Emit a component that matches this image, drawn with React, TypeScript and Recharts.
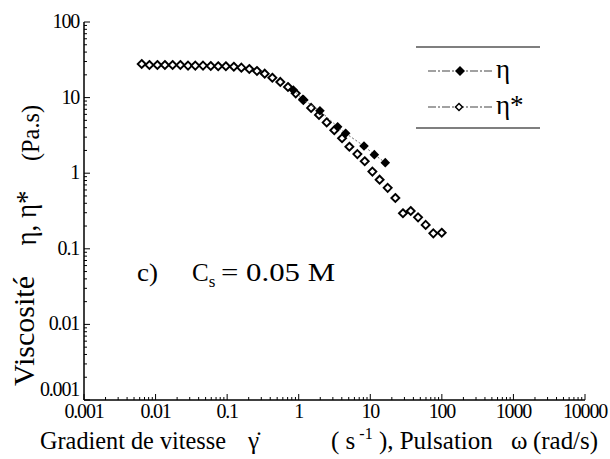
import { Scatter, ScatterChart, XAxis, YAxis } from "recharts";

// η* (open diamonds), oscillatory data
const etaStarX = [
  0.0064, 0.0082, 0.0106, 0.0135, 0.0173, 0.0222, 0.0284, 0.0359, 0.046, 0.059, 0.075, 0.096, 0.124, 0.158,
  0.204, 0.261, 0.335, 0.428, 0.553, 0.708, 0.908, 1.16, 1.49, 1.92, 2.46, 3.14, 4.03, 5.1, 6.6, 8.36, 10.7,
  13.5, 17.5, 22.4, 28.6, 36.7, 46.5, 59.4, 76, 99.5,
];
const etaStarY = [
  27.8, 27, 27, 27, 27, 27, 26.5, 26.5, 26.5, 26.2, 26, 26, 25.6, 24.9, 23.9, 22.5, 20.7, 18.3, 16.1, 13.8,
  11.4, 9.3, 7.3, 5.9, 4.7, 3.7, 2.9, 2.24, 1.79, 1.44, 1.05, 0.82, 0.64, 0.47, 0.295, 0.316, 0.261, 0.207,
  0.16, 0.163,
];

// η (filled diamonds), steady shear data
const etaX = [0.84, 1.14, 1.98, 3.5, 4.53, 8.17, 11.4, 16.2];
const etaY = [12.6, 9.5, 6.7, 4.1, 3.37, 2.29, 1.76, 1.38];

const decadesX = [0.001, 0.01, 0.1, 1, 10, 100, 1000, 10000];
const xLabels = ["0.001", "0.01", "0.1", "1", "10", "100", "1000", "10000"];
const decadesY = [0.001, 0.01, 0.1, 1, 10, 100];
const yLabels = ["0.001", "0.01", "0.1", "1", "10", "100"];

const etaStar = etaStarX.map((x, i) => ({ x, y: etaStarY[i] }));
const eta = etaX.map((x, i) => ({ x, y: etaY[i] }));

function withMinors(decades: number[]) {
  const out: number[] = [];
  decades.forEach((d, i) => {
    out.push(d);
    if (i < decades.length - 1) for (let k = 2; k <= 9; k++) out.push(+(d * k).toPrecision(3));
  });
  return out;
}
const xTicks = withMinors(decadesX);
const yTicks = withMinors(decadesY);

const FONT = "'Liberation Serif', 'DejaVu Serif', serif";

const makeTick = (side: "bottom" | "top" | "left" | "right") => (props: any) => {
  const { x, y, payload } = props;
  const v = payload.value;
  const idx = (side === "bottom" || side === "top" ? decadesX : decadesY).indexOf(v);
  const len = idx >= 0 ? 6 : 3;
  let line;
  if (side === "bottom") line = <line x1={x} x2={x} y1={y} y2={y - len} stroke="#000" />;
  else if (side === "top") line = <line x1={x} x2={x} y1={y} y2={y + len} stroke="#000" />;
  else if (side === "left") line = <line x1={x} x2={x + len} y1={y} y2={y} stroke="#000" />;
  else line = <line x1={x} x2={x - len} y1={y} y2={y} stroke="#000" />;
  return (
    <g>
      {line}
      {idx >= 0 && side === "bottom" && (
        <text x={x} y={y + 18} textAnchor="middle" fontSize={20} fontFamily={FONT} fill="#000" letterSpacing={-1.2}>
          {xLabels[idx]}
        </text>
      )}
      {idx >= 0 && side === "left" && (
        <text
          x={x - 5}
          y={idx === 0 ? y - 4 : y + 6}
          textAnchor="end"
          fontSize={20}
          fontFamily={FONT}
          fill="#000"
          letterSpacing={-1.2}
        >
          {yLabels[idx]}
        </text>
      )}
    </g>
  );
};

const OpenDiamond = (props: any) => {
  const { cx, cy } = props;
  const r = 4;
  return (
    <polygon
      points={`${cx},${cy - r} ${cx + r},${cy} ${cx},${cy + r} ${cx - r},${cy}`}
      fill="#fff"
      stroke="#000"
      strokeWidth={1.9}
    />
  );
};

const FilledDiamond = (props: any) => {
  const { cx, cy } = props;
  const r = 4.8;
  return <polygon points={`${cx},${cy - r} ${cx + r},${cy} ${cx},${cy + r} ${cx - r},${cy}`} fill="#000" />;
};

export default function App() {
  return (
    <div style={{ position: "absolute", left: 0, top: 0, width: 610, height: 459, background: "#fff" }}>
      <ScatterChart width={610} height={459} margin={{ top: 22, right: 25, bottom: 0, left: 0 }}>
        <XAxis
          xAxisId="b"
          dataKey="x"
          type="number"
          scale="log"
          domain={[0.001, 10000]}
          allowDataOverflow
          ticks={xTicks}
          interval={0}
          tickSize={0}
          tickMargin={0}
          tickLine={false}
          tick={makeTick("bottom")}
          axisLine={{ stroke: "#000", strokeWidth: 1.5 }}
          height={59}
        />
        <XAxis
          xAxisId="t"
          orientation="top"
          dataKey="x"
          type="number"
          scale="log"
          domain={[0.001, 10000]}
          allowDataOverflow
          ticks={xTicks}
          interval={0}
          tickSize={0}
          tickMargin={0}
          tickLine={false}
          tick={makeTick("top")}
          axisLine={{ stroke: "#000", strokeWidth: 1.5 }}
          height={0}
        />
        <YAxis
          yAxisId="l"
          dataKey="y"
          type="number"
          scale="log"
          domain={[0.001, 100]}
          allowDataOverflow
          ticks={yTicks}
          interval={0}
          tickSize={0}
          tickMargin={0}
          tickLine={false}
          tick={makeTick("left")}
          axisLine={{ stroke: "#000", strokeWidth: 1.5 }}
          width={84}
        />
        <YAxis
          yAxisId="r"
          orientation="right"
          dataKey="y"
          type="number"
          scale="log"
          domain={[0.001, 100]}
          allowDataOverflow
          ticks={yTicks}
          interval={0}
          tickSize={0}
          tickMargin={0}
          tickLine={false}
          tick={makeTick("right")}
          axisLine={{ stroke: "#000", strokeWidth: 1.5 }}
          width={0}
        />
        <Scatter
          name="η*"
          data={etaStar}
          xAxisId="b"
          yAxisId="l"
          shape={OpenDiamond}
          isAnimationActive={false}
        />
        <Scatter
          name="η"
          data={eta}
          xAxisId="b"
          yAxisId="l"
          shape={FilledDiamond}
          line={{ stroke: "#666", strokeWidth: 1, strokeDasharray: "2 2" }}
          isAnimationActive={false}
        />
      </ScatterChart>
      <svg
        width={610}
        height={459}
        style={{ position: "absolute", left: 0, top: 0, pointerEvents: "none" }}
        fontFamily={FONT}
      >
        {/* legend */}
        <line x1={416} x2={540} y1={47} y2={47} stroke="#555" strokeWidth={1.5} />
        <line x1={416} x2={540} y1={128} y2={128} stroke="#555" strokeWidth={1.5} />
        <line x1={428} x2={492} y1={71} y2={71} stroke="#444" strokeWidth={1.2} strokeDasharray="8 2 2 2" />
        <polygon points="460,66 465,71 460,76 455,71" fill="#000" />
        <text x={496} y={78} fontSize={27} fill="#000">η</text>
        <line x1={428} x2={492} y1={107} y2={107} stroke="#444" strokeWidth={1.2} strokeDasharray="8 2 2 2" />
        <polygon points="459,103.5 462.5,107 459,110.5 455.5,107" fill="#fff" stroke="#000" strokeWidth={1.5} />
        <text x={496} y={114} fontSize={27} fill="#000">η*</text>

        {/* annotation */}
        <text x={137} y={281} fontSize={25} fill="#000" textLength={21} lengthAdjust="spacingAndGlyphs">c)</text>
        <text x={192} y={281} fontSize={25} fill="#000">
          C<tspan fontSize={17} dy={6}>s</tspan>
        </text>
        <text x={221} y={281} fontSize={25} fill="#000" textLength={114} lengthAdjust="spacingAndGlyphs">
          = 0.05 M
        </text>

        {/* y axis title */}
        <g transform="translate(34,0) rotate(-90)">
          <text x={-331} y={0} textAnchor="middle" fontSize={29} fill="#000" textLength={110} lengthAdjust="spacingAndGlyphs">
            Viscosité
          </text>
        </g>
        <g transform="translate(36,0) rotate(-90)">
          <text x={-218} y={0} textAnchor="middle" fontSize={29} fill="#000" textLength={55} lengthAdjust="spacingAndGlyphs">
            η, η*
          </text>
        </g>
        <g transform="translate(39,0) rotate(-90)">
          <text x={-133} y={0} textAnchor="middle" fontSize={25} fill="#000" textLength={56} lengthAdjust="spacingAndGlyphs">
            (Pa.s)
          </text>
        </g>

        {/* x axis title */}
        <text x={40} y={449} fontSize={25} fill="#000" textLength={186} lengthAdjust="spacingAndGlyphs">
          Gradient de vitesse
        </text>
        <text x={248} y={449} fontSize={25} fill="#000">γ̇</text>
        <text x={331} y={449} fontSize={25} fill="#000">
          ( s<tspan fontSize={16} dy={-10}> -1</tspan>
          <tspan dy={10}> ), Pulsation</tspan>
        </text>
        <text x={511} y={449} fontSize={25} fill="#000">ω</text>
        <text x={533} y={449} fontSize={25} fill="#000" textLength={65} lengthAdjust="spacingAndGlyphs">
          (rad/s)
        </text>
      </svg>
    </div>
  );
}
